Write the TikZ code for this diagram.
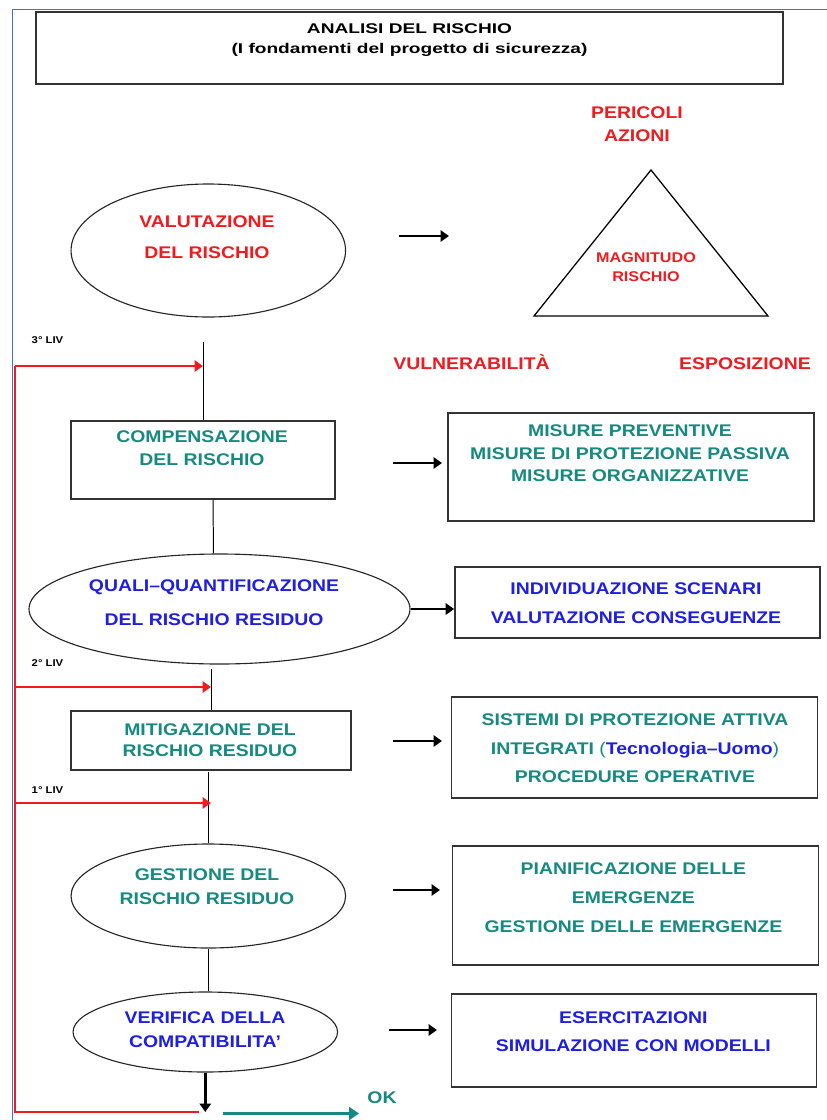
\documentclass[tikz,border=0pt]{standalone}
\usepackage{fontspec}
\setmainfont{Liberation Sans}[FakeStretch=1.15]
\newfontfamily\titlefont{Liberation Sans}[FakeStretch=1.36]
\usetikzlibrary{shapes.geometric,arrows.meta}
\definecolor{rred}{RGB}{238,28,32}
\definecolor{tteal}{RGB}{22,138,128}
\definecolor{bblue}{RGB}{30,30,228}
\definecolor{fblue}{RGB}{68,114,196}
\tikzset{
    sz/.style 2 args={minimum width=#1*0.025cm, minimum height=#2*0.025cm},
    txt/.style={font=\bfseries\fontsize{12}{14}\selectfont, align=center, inner sep=0pt},
    small/.style={font=\bfseries\fontsize{10}{12}\selectfont, align=center, inner sep=0pt},
    liv/.style={font=\bfseries\fontsize{7}{8}\selectfont, inner sep=0pt},
    box/.style={draw=black!80, line width=1.2pt, inner sep=0pt},
    oval/.style={draw=black!85, line width=0.8pt, ellipse, inner sep=0pt},
    link/.style={line width=0.7pt},
    go/.style={line width=2pt, -{Triangle[length=6pt,width=8pt]}},
    back/.style={rred, line width=2pt},
    backto/.style={back, -{Triangle[length=6pt,width=8pt]}},
    okarrow/.style={tteal, line width=2.8pt, -{Triangle[length=7pt,width=9pt]}}
}

\begin{document}
\begin{tikzpicture}[x=0.025cm, y=-0.025cm]
\useasboundingbox (0,0) rectangle (827,1120);
% cornice
\draw[fblue, line width=1.3pt] (12.5,1120) -- (12.5,9.5) -- (827,9.5);

% titolo
\node[box, sz={747}{72}] (titolo) at (409.5,48) {};
\node[font=\titlefont\bfseries\fontsize{10}{12}\selectfont, align=center, inner sep=0pt] (titolotxt) at (409.5,40)
    {ANALISI DEL RISCHIO\\[2.2pt](I fondamenti del progetto di sicurezza)};

% triangolo del rischio
\node[txt, rred] (pericoli) at (637,124.5) {PERICOLI\\[2.4pt]AZIONI};
\draw[line width=0.9pt] (651,170) -- (534,316) -- (768,316) -- cycle;
\node[small, rred] (magnitudo) at (646,267.4) {MAGNITUDO\\[1.3pt]RISCHIO};
\node[txt, rred, anchor=base] (vuln) at (471.5,369) {VULNERABILITÀ};
\node[txt, rred, anchor=base] (espo) at (745,369) {ESPOSIZIONE};

% colonna di sinistra
\node[oval, sz={274.5}{133}] (valut) at (208.3,250.5) {};
\node[txt, rred] (valuttxt) at (207,237.4) {VALUTAZIONE\\[8.3pt]DEL RISCHIO};

\node[box, sz={264}{78}] (comp) at (203,460) {};
\node[txt, tteal] (comptxt) at (202,448.5) {COMPENSAZIONE\\[2.4pt]DEL RISCHIO};

\node[oval, sz={381}{110}] (quali) at (219.5,609) {};
\node[txt, bblue] (qualitxt) at (214,602.7) {QUALI--QUANTIFICAZIONE\\[9.7pt]DEL RISCHIO RESIDUO};

\node[box, sz={280}{59}] (mitig) at (211,740.5) {};
\node[txt, tteal] (mitigtxt) at (210,740.4) {MITIGAZIONE DEL\\[0.7pt]RISCHIO RESIDUO};

\node[oval, sz={274.5}{104}] (gest) at (208.3,896) {};
\node[txt, tteal] (gesttxt) at (207,886.7) {GESTIONE DEL\\[2.6pt]RISCHIO RESIDUO};

\node[oval, sz={264.5}{80}] (verif) at (205.3,1032) {};
\node[txt, bblue] (veriftxt) at (205,1029.5) {VERIFICA DELLA\\[3.4pt]COMPATIBILITA'};

% colonna di destra
\node[box, sz={366}{108}] (misure) at (631,467) {};
\node[txt, tteal] (misuretxt) at (630,453.5)
    {MISURE PREVENTIVE\\[2pt]MISURE DI PROTEZIONE PASSIVA\\[2pt]MISURE ORGANIZZATIVE};

\node[box, sz={365}{71}] (indiv) at (637.5,602.5) {};
\node[txt, bblue] (indivtxt) at (636,602.8) {INDIVIDUAZIONE SCENARI\\[6.6pt]VALUTAZIONE CONSEGUENZE};

\node[box, sz={366}{101}] (sistemi) at (634.5,747.5) {};
\node[txt, tteal] (sistemitxt) at (635,748.3)
    {SISTEMI DI PROTEZIONE ATTIVA\\[6.1pt]INTEGRATI {\mdseries(}\textcolor{bblue}{Tecnologia--Uomo}{\mdseries)}\\[6.1pt]PROCEDURE OPERATIVE};

\node[box, sz={366}{119}] (pianif) at (635.5,905.5) {};
\node[txt, tteal] (pianiftxt) at (633.4,897.5)
    {PIANIFICAZIONE DELLE\\[6.8pt]EMERGENZE\\[6.8pt]GESTIONE DELLE EMERGENZE};

\node[box, sz={365}{93}] (eserc) at (634,1040.5) {};
\node[txt, bblue] (eserctxt) at (633.4,1031.7) {ESERCITAZIONI\\[6.4pt]SIMULAZIONE CON MODELLI};

% collegamenti verticali
\draw[link] (comp.north) -- ++(0,-78);
\draw[link] ([xshift=10*0.025cm]comp.south) -- ([xshift=-6*0.025cm]quali.north);
\draw[link] (mitig.north) -- ++(0,-41);
\draw[link] (gest.north) -- ++(0,-71);
\draw[link] (gest.south) -- (gest.south |- verif.north);

% frecce verso destra
\foreach \i/\xa/\xb/\yy in {1/399/449/236, 2/393/442/463, 3/393/442/741, 4/393/440/890, 5/389/437/1030}
    {\coordinate (s\i) at (\xa,\yy); \coordinate (e\i) at (\xb,\yy); \draw[go] (s\i) -- (e\i);}
\draw[go] (quali.east) -- (quali.east -| indiv.west);

% ritorni ai livelli
\coordinate (r3) at (15,366);
\coordinate (r2) at (15,687);
\coordinate (r1) at (15,803);
\coordinate (r0) at (15,1112);
\coordinate (rend) at (199,1112);
\draw[back] (r3) -- (r0) -- (rend);
\draw[backto] (r3) -- (r3 -| comp.north);
\draw[backto] (r2) -- (r2 -| mitig.north);
\draw[backto] (r1) -- (r1 -| mitig.north);
\node[liv] (liv3) at (47.5,340) {3° LIV};
\node[liv] (liv2) at (47.5,663) {2° LIV};
\node[liv] (liv1) at (47.5,790) {1° LIV};

% uscita
\draw[go] (verif.south) -- (verif.south |- r0);
\coordinate (ok1) at (223,1113.5);
\coordinate (ok2) at (359,1113.5);
\draw[okarrow] (ok1) -- (ok2);
\node[txt, tteal] (ok) at (382,1098) {OK};
\end{tikzpicture}
\end{document}
